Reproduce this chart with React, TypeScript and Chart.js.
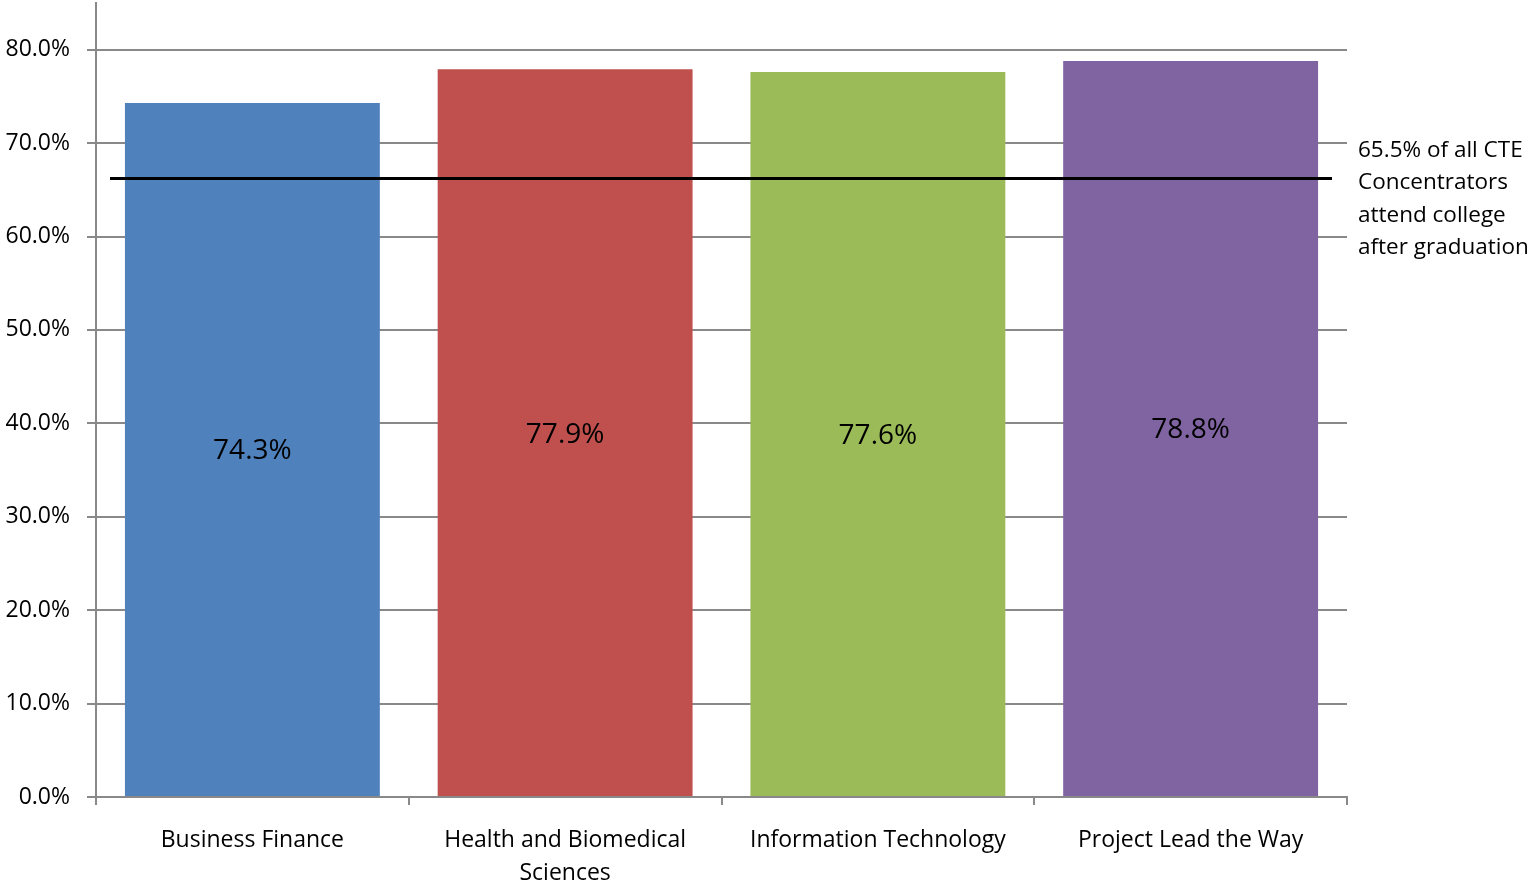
import React, { useEffect, useRef } from "react";
import { Chart, registerables } from "chart.js";

Chart.register(...registerables);

const categories: string[][] = [
  ["Business Finance"],
  ["Health and Biomedical", "Sciences"],
  ["Information Technology"],
  ["Project Lead the Way"],
];
const values: number[] = [0.743, 0.779, 0.776, 0.788];
const barColors: string[] = ["#4F81BD", "#C0504D", "#9BBB59", "#8064A2"];
const referenceValue = 0.662;
const referenceLabel: string[] = [
  "65.5% of all CTE",
  "Concentrators",
  "attend college",
  "after graduation",
];
const yMax = 0.85;
const yStep = 0.1;

const FONT = "'Open Sans', sans-serif";

const overlayPlugin = {
  id: "overlay",
  afterDatasetsDraw(chart: any) {
    const ctx = chart.ctx;
    const meta = chart.getDatasetMeta(0);
    ctx.save();
    ctx.fillStyle = "#000";
    ctx.font = `28px ${FONT}`;
    ctx.textAlign = "center";
    ctx.textBaseline = "middle";
    meta.data.forEach((bar: any, i: number) => {
      const yMid = (bar.y + bar.base) / 2;
      ctx.fillText((values[i] * 100).toFixed(1) + "%", bar.x, yMid + 2);
    });
    // reference line
    const ca = chart.chartArea;
    const y = chart.scales.y.getPixelForValue(referenceValue);
    ctx.strokeStyle = "#000";
    ctx.lineWidth = 3;
    ctx.beginPath();
    ctx.moveTo(ca.left + 14, y);
    ctx.lineTo(ca.right - 15, y);
    ctx.stroke();
    // annotation
    ctx.font = `22.5px ${FONT}`;
    ctx.textAlign = "left";
    ctx.textBaseline = "middle";
    referenceLabel.forEach((line, i) => {
      ctx.fillText(line, ca.right + 11, 150.5 + i * 32.3);
    });
    ctx.restore();
  },
};

export default function App() {
  const ref = useRef<HTMLCanvasElement | null>(null);
  useEffect(() => {
    document.body.style.margin = "0";
    if (!ref.current) return;
    const chart = new Chart(ref.current, {
      type: "bar",
      data: {
        labels: categories,
        datasets: [
          {
            data: values,
            backgroundColor: barColors,
            borderWidth: 0,
            barPercentage: 0.815,
            categoryPercentage: 1,
          },
        ],
      },
      options: {
        animation: false,
        responsive: false,
        layout: { padding: { top: 3, right: 187, bottom: 0, left: 0 } },
        plugins: {
          legend: { display: false },
          tooltip: { enabled: false },
        },
        scales: {
          x: {
            afterFit: (axis: any) => {
              axis.height = 86;
              axis.paddingLeft = 0;
              axis.paddingRight = 0;
            },
            grid: {
              display: true,
              offset: true,
              drawOnChartArea: false,
              drawTicks: true,
              tickLength: 8,
              color: "#898989",
              lineWidth: 2,
            },
            border: { display: true, color: "#898989", width: 2 },
            ticks: {
              color: "#000",
              padding: 19,
              font: { family: FONT, size: 23, lineHeight: 1.43 },
              maxRotation: 0,
              autoSkip: false,
            },
          },
          y: {
            min: 0,
            max: yMax,
            afterFit: (axis: any) => {
              axis.width = 96;
              axis.paddingTop = 0;
              axis.paddingBottom = 0;
            },
            afterBuildTicks: (axis: any) => {
              axis.ticks = axis.ticks.filter((t: any) => t.value <= 0.8 + 1e-9);
            },
            grid: {
              color: "#898989",
              lineWidth: 2,
              tickLength: 9,
            },
            border: { display: true, color: "#898989", width: 2 },
            ticks: {
              stepSize: yStep,
              color: "#000",
              padding: 17,
              font: { family: FONT, size: 23 },
              callback: (v: any) => (Number(v) * 100).toFixed(1) + "%",
            },
          },
        },
      },
      plugins: [overlayPlugin],
    });
    return () => chart.destroy();
  }, []);
  return (
    <div style={{ width: 1534, height: 883 }}>
      <canvas ref={ref} width={1534} height={883} style={{ display: "block" }} />
    </div>
  );
}
